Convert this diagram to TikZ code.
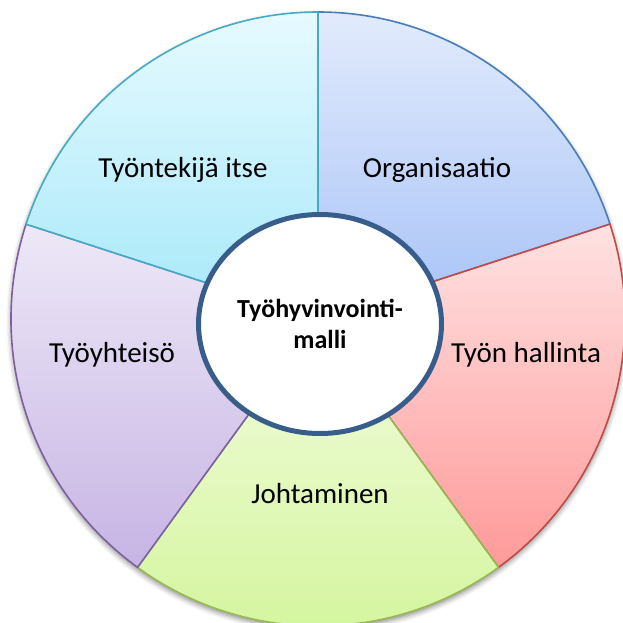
\documentclass[tikz,border=0pt]{standalone}
\usepackage{fontspec}
\setmainfont{Carlito}
\usetikzlibrary{shapes.geometric,shadows.blur}
\definecolor{orgT}{HTML}{E2EBFC}
\definecolor{orgB}{HTML}{A6C2F7}
\definecolor{orgD}{HTML}{4A7EBB}
\definecolor{hallT}{HTML}{FFE2E2}
\definecolor{hallB}{HTML}{FF9999}
\definecolor{hallD}{HTML}{BE4B48}
\definecolor{johT}{HTML}{F2FCDE}
\definecolor{johB}{HTML}{D3F59C}
\definecolor{johD}{HTML}{98B954}
\definecolor{yhtT}{HTML}{EEE8F7}
\definecolor{yhtB}{HTML}{C6B4E4}
\definecolor{yhtD}{HTML}{7D60A0}
\definecolor{tekT}{HTML}{E6FAFF}
\definecolor{tekB}{HTML}{A6E8F9}
\definecolor{tekD}{HTML}{46AAC5}
\definecolor{midD}{HTML}{385D8A}
\tikzset{
  sector/.style={line width=1.6pt, line join=round},
  lab/.style={font=\fontsize{29}{35}\selectfont, anchor=base, inner sep=0pt},
}
\begin{document}
\begin{tikzpicture}[x=1pt,y=1pt]
\useasboundingbox (0,0) rectangle (622,-623);
\begin{scope}[shift={(318,-319)}]
  \path[fill=white, blur shadow={shadow xshift=0pt, shadow yshift=-3pt, shadow blur radius=5pt, shadow opacity=45}] (0,0) circle[radius=307];
  \path[sector, top color=orgT, bottom color=orgB, draw=orgD] (0,0) -- (18:307) arc[start angle=18, end angle=90, radius=307] -- cycle;
  \path[sector, top color=hallT, bottom color=hallB, draw=hallD] (0,0) -- (-54:307) arc[start angle=-54, end angle=18, radius=307] -- cycle;
  \path[sector, top color=johT, bottom color=johB, draw=johD] (0,0) -- (-126:307) arc[start angle=-126, end angle=-54, radius=307] -- cycle;
  \path[sector, top color=yhtT, bottom color=yhtB, draw=yhtD] (0,0) -- (162:307) arc[start angle=162, end angle=234, radius=307] -- cycle;
  \path[sector, top color=tekT, bottom color=tekB, draw=tekD] (0,0) -- (90:307) arc[start angle=90, end angle=162, radius=307] -- cycle;
\end{scope}
\node (malli) [ellipse, draw=midD, line width=5pt, fill=white, minimum width=243, minimum height=219, inner sep=0pt, align=center, font=\bfseries\fontsize{26}{31}\selectfont] at (320,-324) {Työhyvinvointi-\\malli};
\node[lab] (org) at (437,-177) {Organisaatio};
\node[lab] (tek) at (183,-177) {Työntekijä itse};
\node[lab] (yht) at (112,-362) {Työyhteisö};
\node[lab] (hall) at (526,-362) {Työn hallinta};
\node[lab] (joh) at (320,-503) {Johtaminen};
\end{tikzpicture}
\end{document}
